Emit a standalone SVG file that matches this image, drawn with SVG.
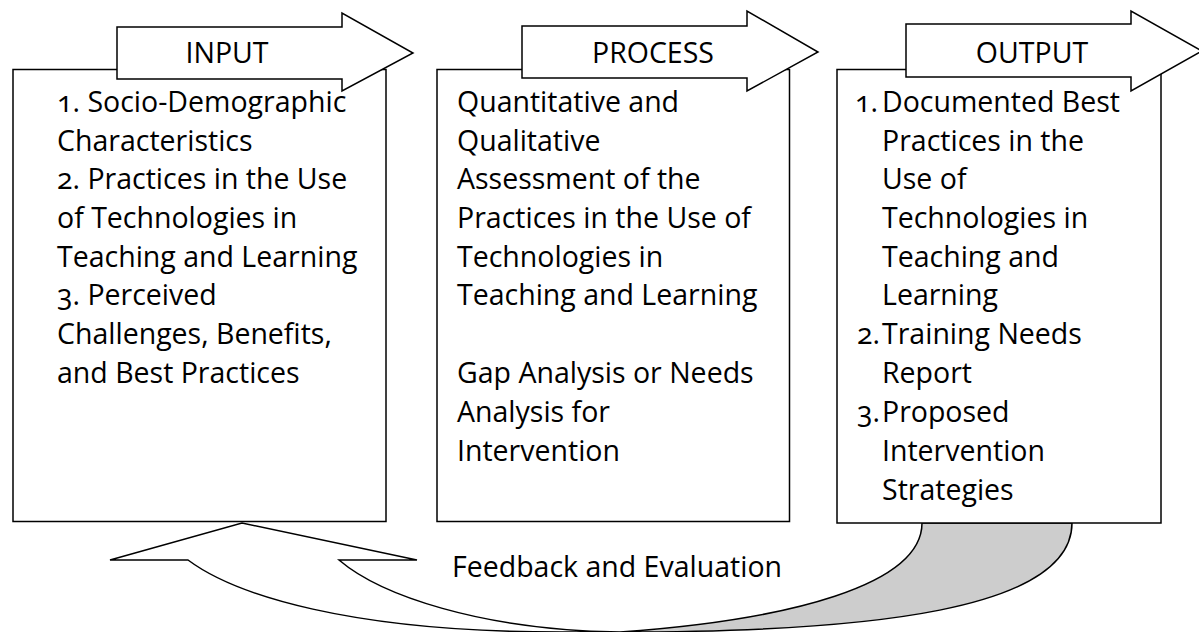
<svg xmlns="http://www.w3.org/2000/svg" width="1199" height="632" viewBox="0 0 1199 632">
<style>
.box{fill:#fff;stroke:#000;stroke-width:1.5}
.hdr{fill:#fff;stroke:#000;stroke-width:1.5;stroke-linejoin:miter}
.t{font-family:"Open Sans","Noto Sans",sans-serif;font-size:28.5px;fill:#000;font-variant-numeric:oldstyle-nums}
.c{text-anchor:middle}
.fw{fill:#fff;stroke:#000;stroke-width:1.5;stroke-linejoin:miter}
.fg{fill:#cdcdcd;stroke:#000;stroke-width:1.5}
</style>
<rect width="1199" height="632" fill="#fff"/>
<g id="connectors">
  <path class="fg" d="M620,632 C790,620 922,585 922,523 L1072,523 C1072,610 870,632 620,632 Z"/>
  <path class="fw" d="M110,560 L242,523 L417,560 L339,560 C380,595 480,630 620,632 L560,632 C350,632 235,595 188,560 Z"/>
  <text class="t" x="452" y="577">Feedback and Evaluation</text>
</g>
<g id="node-input">
  <rect class="box" x="13" y="69.5" width="373" height="452"/>
  <polygon class="hdr" points="117,27 342,27 342,13 413,53 342,91 342,79 117,79"/>
  <text class="t c" x="227" y="63">INPUT</text>
  <text class="t" x="57" y="112">1. Socio-Demographic</text>
  <text class="t" x="57" y="150.5">Characteristics</text>
  <text class="t" x="57" y="189.3">2. Practices in the Use</text>
  <text class="t" x="57" y="228">of Technologies in</text>
  <text class="t" x="57" y="266.7">Teaching and Learning</text>
  <text class="t" x="57" y="305.3">3. Perceived</text>
  <text class="t" x="57" y="344">Challenges, Benefits,</text>
  <text class="t" x="57" y="382.7">and Best Practices</text>
</g>
<g id="node-process">
  <rect class="box" x="437" y="69.5" width="352.5" height="452"/>
  <polygon class="hdr" points="522,26 747,26 747,11 818,52 747,91 747,78 522,78"/>
  <text class="t c" x="653" y="62.7">PROCESS</text>
  <text class="t" x="457" y="112">Quantitative and</text>
  <text class="t" x="457" y="150.5">Qualitative</text>
  <text class="t" x="457" y="189.3">Assessment of the</text>
  <text class="t" x="457" y="228">Practices in the Use of</text>
  <text class="t" x="457" y="266.7">Technologies in</text>
  <text class="t" x="457" y="305.3">Teaching and Learning</text>
  <text class="t" x="457" y="382.7">Gap Analysis or Needs</text>
  <text class="t" x="457" y="421.5">Analysis for</text>
  <text class="t" x="457" y="460.5">Intervention</text>
</g>
<g id="node-output">
  <rect class="box" x="837" y="69.5" width="324" height="453.5"/>
  <polygon class="hdr" points="906,24 1131,24 1131,11 1202,51 1131,91 1131,77 906,77"/>
  <text class="t c" x="1032" y="62.7">OUTPUT</text>
  <text class="t" x="855" y="112">1.</text>
  <text class="t" x="882" y="112">Documented Best</text>
  <text class="t" x="882" y="150.5">Practices in the</text>
  <text class="t" x="882" y="189.3">Use of</text>
  <text class="t" x="882" y="228">Technologies in</text>
  <text class="t" x="882" y="266.7">Teaching and</text>
  <text class="t" x="882" y="305.3">Learning</text>
  <text class="t" x="857" y="344">2.</text>
  <text class="t" x="882" y="344">Training Needs</text>
  <text class="t" x="882" y="382.7">Report</text>
  <text class="t" x="857" y="421.5">3.</text>
  <text class="t" x="882" y="421.5">Proposed</text>
  <text class="t" x="882" y="460.5">Intervention</text>
  <text class="t" x="882" y="500">Strategies</text>
</g>
</svg>
